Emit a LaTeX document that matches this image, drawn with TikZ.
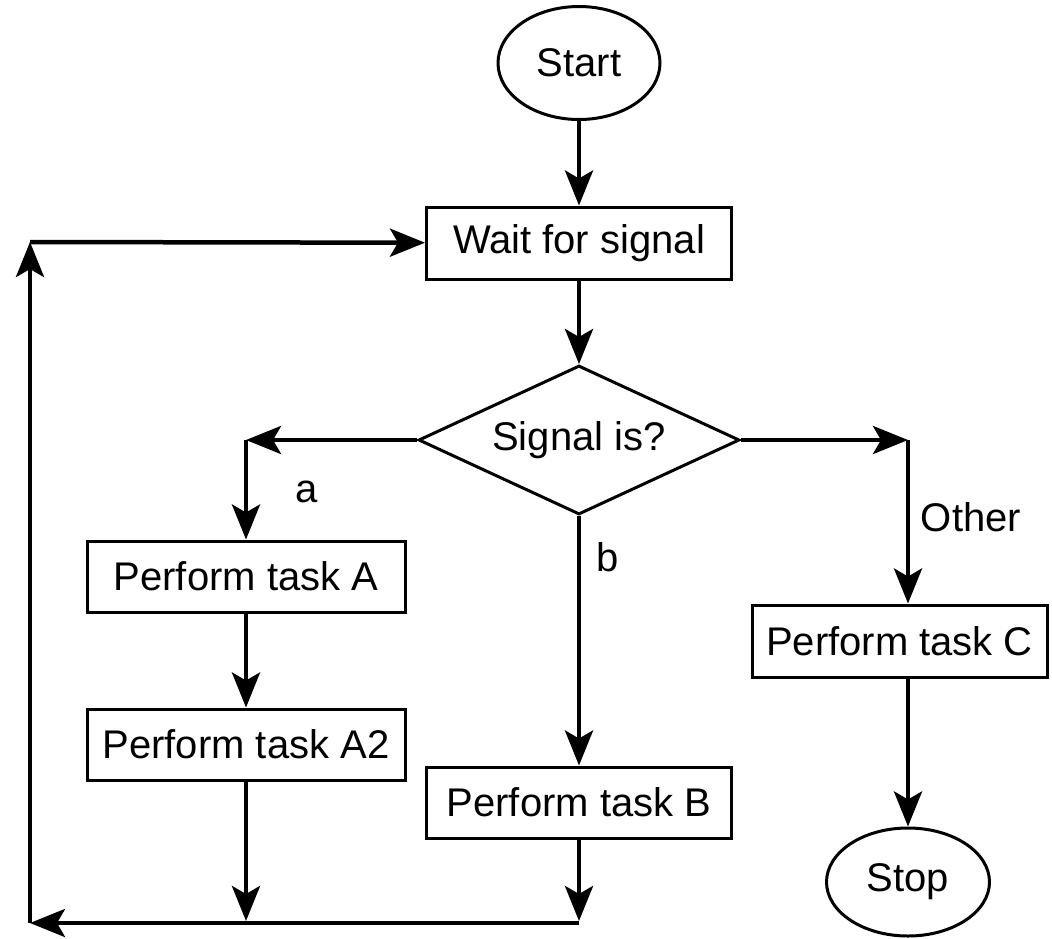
\documentclass[tikz,border=0pt]{standalone}
\usepackage{fontspec}
\setmainfont{Liberation Sans}
\usetikzlibrary{arrows.meta,shapes.geometric}
\begin{document}
\begin{tikzpicture}[x=1pt,y=-1pt,
  every node/.style={font=\fontsize{40}{48}\selectfont, inner sep=0pt},
  box/.style={draw, line width=3pt, rectangle, minimum height=71pt},
  oval/.style={draw, line width=3pt, ellipse},
  choice/.style={draw, line width=3pt, diamond, aspect=2.15},
  flow/.style={line width=4.5pt, -{Stealth[length=35pt,width=28pt,inset=8pt]}}]
\useasboundingbox (0,0) rectangle (1052,938);

% process nodes
\node[oval, minimum width=162pt, minimum height=113pt] (start) at (579,63) {Start};
\node[box, minimum width=305pt, minimum height=72pt] (wait) at (579,243) {Wait for signal};
\node[choice, minimum width=321pt, minimum height=149pt] (dec) at (579,440) {Signal is?};
\node[box, minimum width=318pt] (taskA) at (246,576.5) {Perform task A};
\node[box, minimum width=318pt] (taskA2) at (246,744.5) {Perform task A2};
\node[box, minimum width=305pt] (taskB) at (579,802.5) {Perform task B};
\node[box, minimum width=295pt, minimum height=72pt] (taskC) at (899.5,641) {Perform task C};
\node[oval, minimum width=163pt, minimum height=108pt] (stop) at (908,882) {Stop};

% branch labels
\node (la) at (307,492) {a};
\node (lb) at (608,557) {b};
\node (lo) at (971,517) {Other};

% bends and joints of the connectors
\coordinate (ca) at (246,440);
\coordinate (cc) at (908,440);
\coordinate (ja) at (246,923);
\coordinate (jb) at (579,923);
\coordinate (bl) at (30,923);
\coordinate (tl) at (30,242);

% main flow
\draw[flow] (start) -- (wait);
\draw[flow] (wait) -- (dec);

% branch a
\draw[flow] (dec.west) -- (ca);
\draw[flow] (ca) -- (taskA.north -| ca);
\draw[flow] (taskA) -- (taskA2);
\draw[flow, shorten >=2pt] (taskA2) -- (ja);

% branch b
\draw[flow] (dec) -- (taskB);
\draw[flow, shorten >=2pt] (taskB) -- (jb);

% branch other
\draw[flow] (dec.east) -- (cc);
\draw[flow] (cc) -- (taskC.north -| cc);
\draw[flow] (taskC.south -| stop) -- (stop);

% loop back to waiting
\draw[flow] (jb) -- (bl);
\draw[flow] (bl) -- (tl);
\draw[flow] (tl) -- (wait);
\end{tikzpicture}
\end{document}
